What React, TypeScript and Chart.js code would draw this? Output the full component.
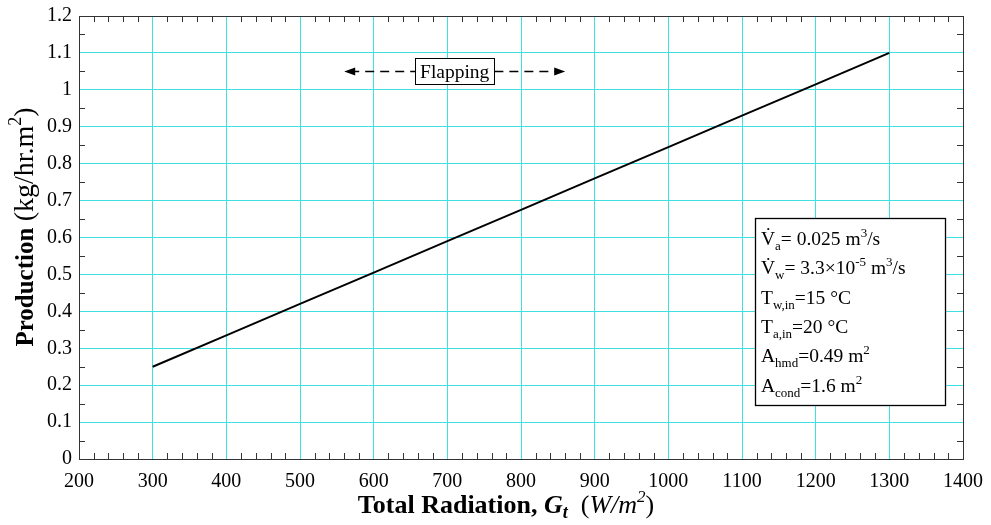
import { useEffect, useRef } from "react";
import { Chart, registerables } from "chart.js";

Chart.register(...registerables);

// ---- data ----
const radiation = [300, 400, 500, 600, 700, 800, 900, 1000, 1100, 1200, 1300];
const production = [0.25, 0.335, 0.42, 0.505, 0.59, 0.675, 0.76, 0.845, 0.93, 1.015, 1.1];
const xMin = 200;
const xMax = 1400;
const xStep = 100;
const yMin = 0;
const yMax = 1.2;
const yStep = 0.1;
const flappingLabel = "Flapping";
const flappingFrom = 560;
const flappingTo = 860;
const flappingY = 1.05;

const FONT = "'Liberation Serif', 'Times New Roman', serif";

type Run = { t: string; size: number; bold?: boolean; italic?: boolean; dy?: number };

const S = 19.5; // main legend text size
const SS = 13; // sub/sup size
const legendLines: Run[][] = [
  [{ t: "V\u0307", size: S }, { t: "a", size: SS, dy: 5 }, { t: "= 0.025 m", size: S }, { t: "3", size: SS, dy: -8 }, { t: "/s", size: S }],
  [{ t: "V\u0307", size: S }, { t: "w", size: SS, dy: 5 }, { t: "= 3.3\u00d710", size: S }, { t: "-5", size: SS, dy: -8 }, { t: " m", size: S }, { t: "3", size: SS, dy: -8 }, { t: "/s", size: S }],
  [{ t: "T", size: S }, { t: "w,in", size: SS, dy: 5 }, { t: "=15 \u00b0C", size: S }],
  [{ t: "T", size: S }, { t: "a,in", size: SS, dy: 5 }, { t: "=20 \u00b0C", size: S }],
  [{ t: "A", size: S }, { t: "hmd", size: SS, dy: 5 }, { t: "=0.49 m", size: S }, { t: "2", size: SS, dy: -8 }],
  [{ t: "A", size: S }, { t: "cond", size: SS, dy: 5 }, { t: "=1.6 m", size: S }, { t: "2", size: SS, dy: -8 }],
];

const xTitle: Run[] = [
  { t: "Total Radiation, ", size: 26, bold: true },
  { t: "G", size: 26, bold: true, italic: true },
  { t: "t", size: 18, bold: true, italic: true, dy: 5 },
  { t: "  (", size: 26 },
  { t: "W/m", size: 26, italic: true },
  { t: "2", size: 17, italic: true, dy: -11 },
  { t: ")", size: 26 },
];

const yTitle: Run[] = [
  { t: "Production ", size: 25, bold: true },
  { t: "(kg/hr.m", size: 28 },
  { t: "2", size: 18, dy: -12 },
  { t: ")", size: 28 },
];

function fontOf(r: Run) {
  return `${r.italic ? "italic " : ""}${r.bold ? "bold " : ""}${r.size}px ${FONT}`;
}
function runsWidth(ctx: CanvasRenderingContext2D, runs: Run[]) {
  let w = 0;
  for (const r of runs) {
    ctx.font = fontOf(r);
    w += ctx.measureText(r.t).width;
  }
  return w;
}
function drawRuns(ctx: CanvasRenderingContext2D, runs: Run[], x: number, y: number, align: "left" | "center") {
  const w = runsWidth(ctx, runs);
  let cx = align === "center" ? x - w / 2 : x;
  ctx.textAlign = "left";
  ctx.textBaseline = "alphabetic";
  for (const r of runs) {
    ctx.font = fontOf(r);
    ctx.fillText(r.t, cx, y + (r.dy || 0));
    cx += ctx.measureText(r.t).width;
  }
}

const decorPlugin = {
  id: "decor",
  afterDraw(chart: any) {
    const { ctx, chartArea, scales } = chart;
    const { left, right, top, bottom } = chartArea;
    const xs = scales.x;
    const ys = scales.y;
    ctx.save();
    ctx.fillStyle = "#000";
    ctx.strokeStyle = "#333";
    ctx.lineWidth = 1;
    // frame
    ctx.strokeRect(Math.round(left) + 0.5, Math.round(top) + 0.5, Math.round(right - left), Math.round(bottom - top));
    // minor ticks
    ctx.beginPath();
    for (let v = xMin; v <= xMax; v += 20) {
      if (v % 100 === 0) continue;
      const px = Math.round(xs.getPixelForValue(v)) + 0.5;
      ctx.moveTo(px, bottom);
      ctx.lineTo(px, bottom - 6);
      ctx.moveTo(px, top);
      ctx.lineTo(px, top + 6);
    }
    for (let i = 1; i < 24; i += 2) {
      const py = Math.round(ys.getPixelForValue(i * 0.05)) + 0.5;
      ctx.moveTo(left, py);
      ctx.lineTo(left + 6, py);
      ctx.moveTo(right, py);
      ctx.lineTo(right - 6, py);
    }
    ctx.stroke();

    // flapping annotation
    const fy = Math.round(ys.getPixelForValue(flappingY)) + 0.5;
    const fx1 = xs.getPixelForValue(flappingFrom);
    const fx2 = xs.getPixelForValue(flappingTo);
    const fc = (fx1 + fx2) / 2;
    ctx.font = `19.5px ${FONT}`;
    const tw = ctx.measureText(flappingLabel).width;
    const bx1 = fc - tw / 2 - 5;
    const bx2 = fc + tw / 2 + 5;
    ctx.strokeStyle = "#000";
    ctx.lineWidth = 1.3;
    ctx.setLineDash([9, 6]);
    ctx.beginPath();
    ctx.moveTo(fx1 + 6, fy);
    ctx.lineTo(bx1, fy);
    ctx.moveTo(bx2, fy);
    ctx.lineTo(fx2 - 6, fy);
    ctx.stroke();
    ctx.setLineDash([]);
    ctx.beginPath();
    ctx.moveTo(fx1, fy);
    ctx.lineTo(fx1 + 11, fy - 4);
    ctx.lineTo(fx1 + 11, fy + 4);
    ctx.closePath();
    ctx.moveTo(fx2, fy);
    ctx.lineTo(fx2 - 11, fy - 4);
    ctx.lineTo(fx2 - 11, fy + 4);
    ctx.closePath();
    ctx.fill();
    ctx.fillStyle = "#fff";
    ctx.fillRect(bx1, fy - 13, bx2 - bx1, 26);
    ctx.lineWidth = 1;
    ctx.strokeRect(Math.round(bx1) + 0.5, fy - 13, Math.round(bx2 - bx1), 26);
    ctx.fillStyle = "#000";
    ctx.textAlign = "center";
    ctx.textBaseline = "middle";
    ctx.fillText(flappingLabel, fc, fy + 1);

    // legend box
    const lbX = 755, lbY = 218, lbW = 190, lbH = 187;
    ctx.fillStyle = "#fff";
    ctx.fillRect(lbX, lbY, lbW, lbH);
    ctx.strokeStyle = "#000";
    ctx.lineWidth = 1.3;
    ctx.strokeRect(lbX + 0.5, lbY + 0.5, lbW, lbH);
    ctx.fillStyle = "#000";
    legendLines.forEach((runs, i) => {
      drawRuns(ctx, runs, 761, 245 + i * 29.3, "left");
    });

    // axis titles
    drawRuns(ctx, xTitle, 506, 513, "center");
    ctx.save();
    ctx.translate(33, 227);
    ctx.rotate(-Math.PI / 2);
    drawRuns(ctx, yTitle, 0, 0, "center");
    ctx.restore();

    ctx.restore();
  },
};

export default function App() {
  const ref = useRef<HTMLCanvasElement | null>(null);
  useEffect(() => {
    document.body.style.margin = "0";
    const canvas = ref.current!;
    const gridColor = "#3ee0e0";
    const chart = new Chart(canvas, {
      type: "line",
      data: {
        datasets: [
          {
            data: radiation.map((x, i) => ({ x, y: production[i] })),
            borderColor: "#000",
            borderWidth: 2,
            pointRadius: 0,
            fill: false,
            tension: 0,
          },
        ],
      },
      options: {
        responsive: false,
        animation: false,
        devicePixelRatio: 1,
        layout: { padding: { left: 0, top: 16, right: 28, bottom: 0 } },
        plugins: { legend: { display: false }, tooltip: { enabled: false }, title: { display: false } },
        scales: {
          x: {
            type: "linear",
            min: xMin,
            max: xMax,
            grid: { color: gridColor, drawTicks: false, lineWidth: 1 },
            border: { color: "#333", width: 1 },
            ticks: {
              stepSize: xStep,
              color: "#000",
              font: { family: FONT, size: 20 },
              padding: 11,
              maxRotation: 0,
              autoSkip: false,
              callback: (v: any) => String(Math.round(Number(v))),
            },
            afterFit: (s: any) => {
              s.height = 66;
              s.paddingLeft = 0;
              s.paddingRight = 0;
            },
          },
          y: {
            type: "linear",
            min: yMin,
            max: yMax,
            grid: { color: gridColor, drawTicks: false, lineWidth: 1 },
            border: { color: "#333", width: 1 },
            ticks: {
              stepSize: yStep,
              color: "#000",
              font: { family: FONT, size: 20 },
              padding: 7,
              autoSkip: false,
              callback: (v: any) => String(Math.round(Number(v) * 10) / 10),
            },
            afterFit: (s: any) => {
              s.width = 79;
              s.paddingTop = 0;
              s.paddingBottom = 0;
            },
          },
        },
      },
      plugins: [decorPlugin],
    } as any);
    return () => chart.destroy();
  }, []);
  return (
    <div style={{ width: 991, height: 525, background: "#fff" }}>
      <canvas ref={ref} width={991} height={525} style={{ display: "block" }} />
    </div>
  );
}
